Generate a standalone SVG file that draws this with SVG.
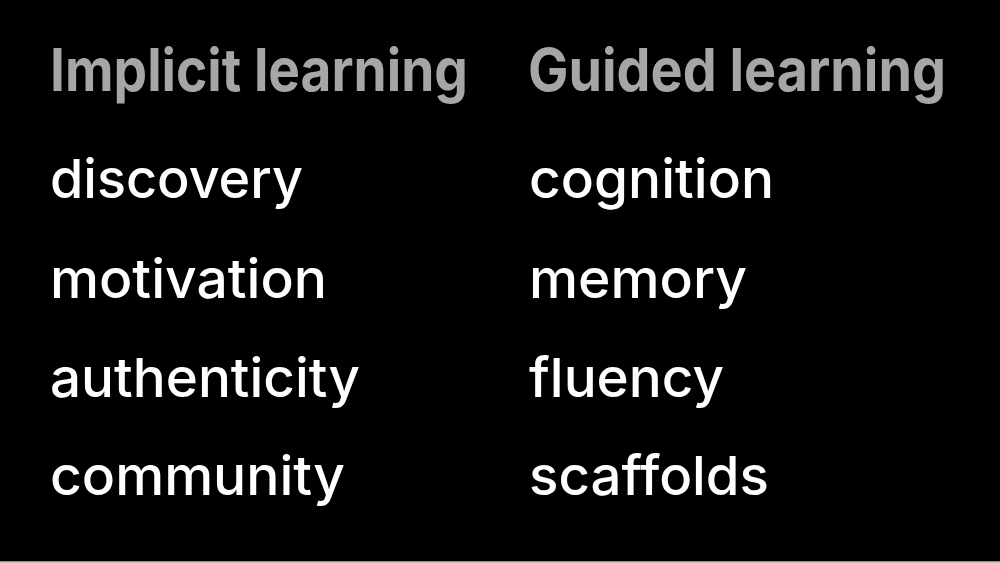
<svg xmlns="http://www.w3.org/2000/svg" width="1000" height="563" viewBox="0 0 1000 563">
  <style>
    .head { font-family: Inter, "Liberation Sans", Arial, sans-serif; font-weight: 700; font-size: 59px; fill: #a6a6a6; }
    .item { font-family: Inter, "Liberation Sans", Arial, sans-serif; font-weight: 500; font-size: 54px; fill: #ffffff; }
  </style>
  <rect x="0" y="0" width="1000" height="563" fill="#000000"/>
  <rect x="0" y="561" width="1000" height="1" fill="#8a8a8a"/>
  <rect x="0" y="562" width="1000" height="1" fill="#c4c4c4"/>
  <g id="col-implicit">
    <text class="head" x="50" y="91" textLength="418" lengthAdjust="spacingAndGlyphs">Implicit learning</text>
    <text class="item" x="50" y="198" textLength="253" lengthAdjust="spacingAndGlyphs">discovery</text>
    <text class="item" x="50" y="298" textLength="277" lengthAdjust="spacingAndGlyphs">motivation</text>
    <text class="item" x="50" y="397" textLength="310" lengthAdjust="spacingAndGlyphs">authenticity</text>
    <text class="item" x="50" y="495" textLength="295" lengthAdjust="spacingAndGlyphs">community</text>
  </g>
  <g id="col-guided">
    <text class="head" x="528" y="91" textLength="418" lengthAdjust="spacingAndGlyphs">Guided learning</text>
    <text class="item" x="529" y="198" textLength="245" lengthAdjust="spacingAndGlyphs">cognition</text>
    <text class="item" x="529" y="298" textLength="218" lengthAdjust="spacingAndGlyphs">memory</text>
    <text class="item" x="529" y="397" textLength="195" lengthAdjust="spacingAndGlyphs">fluency</text>
    <text class="item" x="529" y="495" textLength="240" lengthAdjust="spacingAndGlyphs">scaffolds</text>
  </g>
</svg>
